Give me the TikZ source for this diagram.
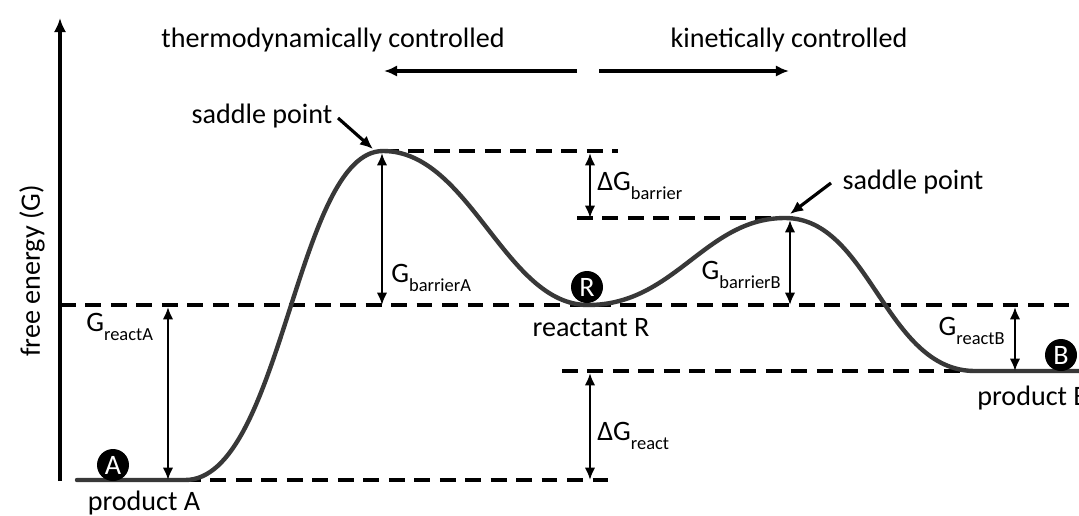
\documentclass[tikz,border=0pt]{standalone}
\usepackage{fontspec}
\setmainfont{Carlito}
\usetikzlibrary{arrows.meta}
\newcommand{\lowtxt}[1]{\raisebox{-0.32em}{\fontsize{10.5}{12}\selectfont #1}}

\begin{document}
\begin{tikzpicture}[x=0.02cm,y=-0.02cm,
  lbl/.style={font=\fontsize{16}{19}\selectfont,inner sep=0pt},
  level/.style={dash pattern=on 9pt off 5.5pt,line width=2pt},
  gap/.style={{Latex[length=7pt,width=6pt]}-{Latex[length=7pt,width=6pt]},line width=1.6pt},
  pointer/.style={-{Latex[length=7.5pt,width=6.5pt]},line width=1.8pt},
  marker/.style={circle,fill=black,text=white,minimum size=0.64cm,inner sep=0pt,font=\fontsize{16}{19}\selectfont}]
  \useasboundingbox (0,0) rectangle (1079,515);

  % points on the energy curve
  \coordinate (startA) at (77,480);
  \coordinate (floorA) at (185,480);
  \coordinate (peakA) at (383,151);
  \coordinate (minR) at (588,305);
  \coordinate (peakB) at (785,218);
  \coordinate (floorB) at (975,371);
  \coordinate (endB) at (1085,371);

  % ends of the levels
  \coordinate (axisbot) at (60,481);
  \coordinate (axistop) at (60,18);
  \coordinate (lvlAend) at (616,480);
  \coordinate (lvlRstart) at (60,305);
  \coordinate (lvlRend) at (1079,305);
  \coordinate (lvlTopend) at (618,151);
  \coordinate (lvlSecstart) at (577,218);
  \coordinate (lvlBstart) at (562,371);
  \coordinate (lvlBend) at (1079,371);

  % levels
  \draw[level] (floorA) -- (lvlAend);
  \draw[level] (lvlRstart) -- (lvlRend);
  \draw[level] (peakA) -- (lvlTopend);
  \draw[level] (lvlSecstart) -- (peakB);
  \draw[level] (lvlBstart) -- (lvlBend);

  % axis
  \draw[-{Latex[length=8pt,width=7pt]},line width=2pt] (axisbot) -- (axistop);
  \node[lbl,rotate=90] (axislbl) at (32,271) {free energy (G)};

  % energy curve
  \draw[line width=2.5pt,black!78,line cap=round] (startA) -- (floorA)
    .. controls (282,480) and (296,151) .. (peakA)
    .. controls (470,151) and (505,305) .. (minR)
    .. controls (675,305) and (705,218) .. (peakB)
    .. controls (870,218) and (885,371) .. (floorB) -- (endB);

  % gaps
  \coordinate (gbaTop) at (382,153);
  \coordinate (gbaBot) at (382,305);
  \coordinate (gbbTop) at (790,220);
  \coordinate (gbbBot) at (790,305);
  \coordinate (graTop) at (168,307);
  \coordinate (graBot) at (168,480);
  \coordinate (grbTop) at (1015,307);
  \coordinate (grbBot) at (1015,371);
  \coordinate (dgbTop) at (590,153);
  \coordinate (dgbBot) at (590,218);
  \coordinate (dgrTop) at (590,373);
  \coordinate (dgrBot) at (590,480);
  \draw[gap] (gbaTop) -- (gbaBot);
  \draw[gap] (gbbTop) -- (gbbBot);
  \draw[gap] (graTop) -- (graBot);
  \draw[gap] (grbTop) -- (grbBot);
  \draw[gap] (dgbTop) -- (dgbBot);
  \draw[gap] (dgrTop) -- (dgrBot);

  \node[lbl,anchor=west] (gbalbl) at (391,278) {G\lowtxt{barrierA}};
  \node[lbl,anchor=east] (gbblbl) at (781,275) {G\lowtxt{barrierB}};
  \node[lbl,anchor=west] (gralbl) at (86,327) {G\lowtxt{reactA}};
  \node[lbl,anchor=east] (grblbl) at (1005,331) {G\lowtxt{reactB}};
  \node[lbl,anchor=west] (dgblbl) at (597,186) {ΔG\lowtxt{barrier}};
  \node[lbl,anchor=west] (dgrlbl) at (597,436) {ΔG\lowtxt{react}};

  % states
  \node[marker] (markA) at (113,465) {A};
  \node[marker] (markR) at (587,287) {R};
  \node[marker] (markB) at (1061,355) {B};
  \node[lbl] (prodA) at (144,503) {product A};
  \node[lbl] (reactR) at (591,328) {reactant R};
  \node[lbl,anchor=west] (prodB) at (977,398) {product B};

  % saddle points
  \node[lbl] (saddleA) at (262,116) {saddle point};
  \node[lbl] (saddleB) at (913,182) {saddle point};
  \draw[pointer] (338,118) -- (373,149);
  \draw[pointer] (831,183) -- (790,214);

  % regimes
  \node[lbl] (thermo) at (333,40) {thermodynamically controlled};
  \node[lbl] (kinetic) at (789,40) {kinetically controlled};
  \coordinate (thermoStart) at (577,71);
  \coordinate (thermoEnd) at (384,71);
  \coordinate (kineticStart) at (599,71);
  \coordinate (kineticEnd) at (789,71);
  \draw[pointer] (thermoStart) -- (thermoEnd);
  \draw[pointer] (kineticStart) -- (kineticEnd);
\end{tikzpicture}
\end{document}
